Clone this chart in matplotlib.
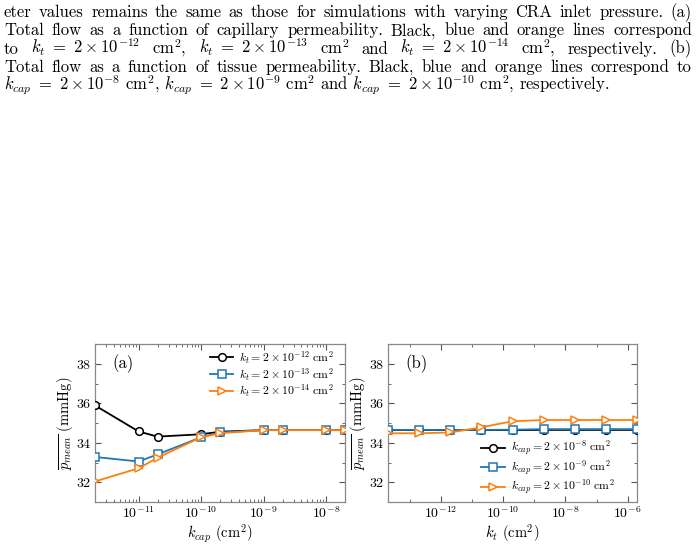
import matplotlib
matplotlib.use("Agg")
import matplotlib.pyplot as plt
from matplotlib.ticker import MultipleLocator, LogLocator, NullFormatter

plt.rcParams['font.family'] = ['cmr10', 'DejaVu Serif']
plt.rcParams['mathtext.fontset'] = 'cm'
plt.rcParams['axes.formatter.use_mathtext'] = True

# ---------------- data ----------------
kcap = [2e-12, 1e-11, 2e-11, 1e-10, 2e-10, 1e-9, 2e-9, 1e-8, 2e-8]
a_kt12 = [35.89, 34.57, 34.31, 34.43, 34.56, 34.64, 34.64, 34.64, 34.64]
a_kt13 = [33.28, 33.05, 33.41, 34.28, 34.52, 34.64, 34.64, 34.64, 34.64]
a_kt14 = [32.04, 32.71, 33.24, 34.28, 34.48, 34.64, 34.64, 34.64, 34.64]
a_labels = [r'$k_t = 2\times10^{-12}\ \mathrm{cm}^2$',
            r'$k_t = 2\times10^{-13}\ \mathrm{cm}^2$',
            r'$k_t = 2\times10^{-14}\ \mathrm{cm}^2$']

kt = [2e-14, 2e-13, 2e-12, 2e-11, 2e-10, 2e-9, 2e-8, 2e-7, 2e-6]
b_kcap8 = [34.64, 34.64, 34.64, 34.64, 34.64, 34.65, 34.65, 34.65, 34.65]
b_kcap9 = [34.65, 34.65, 34.65, 34.65, 34.66, 34.69, 34.69, 34.69, 34.69]
b_kcap10 = [34.48, 34.48, 34.52, 34.78, 35.09, 35.15, 35.15, 35.15, 35.15]
b_labels = [r'$k_{cap} = 2\times10^{-8}\ \mathrm{cm}^2$',
            r'$k_{cap} = 2\times10^{-9}\ \mathrm{cm}^2$',
            r'$k_{cap} = 2\times10^{-10}\ \mathrm{cm}^2$']

colors = ['black', '#1f77b4', '#ff7f0e']
markers = ['o', 's', '>']

W, H = 700, 546
fig = plt.figure(figsize=(W / 100, H / 100), dpi=100)

# ---------------- caption paragraph ----------------
lines = [
    ["eter", "values", "remains", "the", "same", "as", "those", "for", "simulations",
     "with", "varying", "CRA", "inlet", "pressure.", "(a)"],
    ["Total", "flow", "as", "a", "function", "of", "capillary", "permeability.", "Black,",
     "blue", "and", "orange", "lines", "correspond"],
    ["to", r"$k_t\ =\ 2\times10^{-12}$", r"cm$^2$,", r"$k_t\ =\ 2\times10^{-13}$",
     r"cm$^2$", "and", r"$k_t\ =\ 2\times10^{-14}$", r"cm$^2$,", "respectively.", "(b)"],
    ["Total", "flow", "as", "a", "function", "of", "tissue", "permeability.", "Black,",
     "blue", "and", "orange", "lines", "correspond", "to"],
]
last_line = (r"$k_{cap}\ =\ 2\times10^{-8}$ cm$^2$, $k_{cap}\ =\ 2\times10^{-9}$ cm$^2$ and "
             r"$k_{cap}\ =\ 2\times10^{-10}$ cm$^2$, respectively.")
baselines = [17, 35.3, 53.6, 71.9, 90.2]
xl, xr = 4, 692
fs = 12.0
renderer = fig.canvas.get_renderer()
for li, toks in enumerate(lines):
    texts = [fig.text(0, 1 - baselines[li] / H, t, fontsize=fs, va='baseline', ha='left')
             for t in toks]
    widths = [t.get_window_extent(renderer).width for t in texts]
    gap = (xr - xl - sum(widths)) / (len(toks) - 1)
    x = xl
    for t, w in zip(texts, widths):
        t.set_x(x / W)
        x += w + gap
fig.text(xl / W, 1 - baselines[4] / H, last_line, fontsize=fs, va='baseline', ha='left')

# ---------------- axes ----------------
axa = fig.add_axes([95 / W, 1 - 502 / H, 250 / W, 158 / H])
axb = fig.add_axes([388 / W, 1 - 502 / H, 249 / W, 158 / H])

for ax, xs, ys_list, labels in [(axa, kcap, [a_kt12, a_kt13, a_kt14], a_labels),
                                (axb, kt, [b_kcap8, b_kcap9, b_kcap10], b_labels)]:
    for ys, c, m, lab in zip(ys_list, colors, markers, labels):
        ax.plot(xs, ys, color=c, marker=m, markersize=5.5, markerfacecolor='white',
                markeredgecolor=c, markeredgewidth=1.1, lw=1.3, label=lab, zorder=3)
    ax.set_xscale('log')
    ax.set_ylim(31, 39)
    ax.yaxis.set_major_locator(MultipleLocator(2))
    ax.yaxis.set_minor_locator(MultipleLocator(1))
    ax.tick_params(which='both', direction='in', top=True, right=True, labelsize=10,
                   colors='#555555', labelcolor='black', pad=2.5)
    ax.tick_params(which='major', length=4, width=0.8)
    ax.tick_params(which='minor', length=2, width=0.6)
    for s in ax.spines.values():
        s.set_color('#888888')
        s.set_linewidth(0.9)
    ax.set_ylabel(r'$\overline{p_{mean}}$ (mmHg)', fontsize=10.5, labelpad=1)

axa.set_xlim(2e-12, 2e-8)
axa.xaxis.set_major_locator(LogLocator(base=10, numticks=10))
axa.xaxis.set_minor_locator(LogLocator(base=10, subs=range(2, 10), numticks=10))
axa.xaxis.set_minor_formatter(NullFormatter())
axa.set_xlabel(r'$k_{cap}$ (cm$^2$)', fontsize=10.5, labelpad=1)
axa.text(0.07, 0.85, '(a)', transform=axa.transAxes, fontsize=12)
axa.legend(loc='upper left', bbox_to_anchor=(0.44, 1.0), borderaxespad=0,
           frameon=False, fontsize=8.5, handlelength=2.0,
           labelspacing=0.0, handletextpad=0.5)

axb.set_xlim(2e-14, 2e-6)
axb.set_xticks([1e-12, 1e-10, 1e-8, 1e-6])
axb.xaxis.set_minor_locator(LogLocator(base=10, subs=(1.0,), numticks=20))
axb.xaxis.set_minor_formatter(NullFormatter())
axb.set_xlabel(r'$k_t$ (cm$^2$)', fontsize=10.5, labelpad=1)
axb.text(0.07, 0.85, '(b)', transform=axb.transAxes, fontsize=12)
axb.legend(loc='upper left', bbox_to_anchor=(0.355, 0.43), borderaxespad=0,
           frameon=False, fontsize=8.5, handlelength=2.0,
           labelspacing=0.0, handletextpad=0.5)

fig.savefig('out.png', dpi=100)
